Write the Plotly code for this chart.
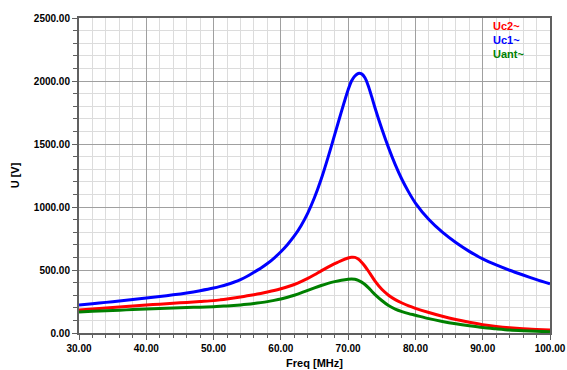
import plotly.graph_objects as go

freq = [30, 32, 34, 36, 38, 40, 42, 44, 46, 48,
        50, 51, 52, 53, 54, 55, 56, 57, 58, 59,
        60, 61, 62, 63, 64, 65, 66, 67, 68, 69,
        70, 70.5, 71, 71.5, 72, 72.5, 73, 73.5, 74,
        75, 76, 77, 78, 79, 80, 82, 84, 86, 88, 90, 92, 94, 96, 98, 100]

uc1 = [222, 232, 243, 254, 266, 278, 290, 303, 318, 336,
       357, 370, 385, 403, 424, 450, 482, 514, 551, 595,
       645, 703, 770, 852, 952, 1075, 1222, 1392, 1574, 1757,
       1930, 2000, 2040, 2060, 2056, 2026, 1961, 1876, 1786,
       1621, 1471, 1336, 1218, 1118, 1031, 900, 800, 718, 648, 588, 540, 498, 460, 424, 390]

uc2 = [183, 191, 199, 207, 215, 222, 229, 236, 243, 250,
       257, 263, 270, 278, 286, 295, 304, 314, 325, 337,
       351, 367, 385, 407, 433, 462, 493, 523, 550, 575,
       595, 601, 600, 587, 562, 530, 492, 452, 412,
       347, 300, 265, 238, 215, 196, 163, 133, 107, 85, 66, 52, 41, 33, 28, 24]

uant = [167, 172, 177, 181, 186, 190, 194, 198, 202, 205,
        209, 212, 215, 219, 223, 228, 234, 241, 249, 259,
        270, 284, 300, 318, 338, 358, 377, 394, 408, 419,
        427, 429, 426, 418, 404, 385, 360, 332, 305,
        258, 218, 190, 170, 154, 141, 114, 92, 73, 57, 43, 33, 24, 18, 13, 10]

series = [("Uc2~", uc2, "#ff0000"), ("Uc1~", uc1, "#0000ff"), ("Uant~", uant, "#008000")]

FONT = "Liberation Sans"

fig = go.Figure()
for name, vals, col in series:
    fig.add_trace(go.Scatter(x=freq, y=vals, mode="lines", name=name,
                             line=dict(color=col, width=3, shape="spline", smoothing=0.8),
                             showlegend=False, hoverinfo="skip"))

for i, (name, vals, col) in enumerate(series):
    fig.add_annotation(xref="paper", yref="paper", x=0.874, y=0.975 - i * 0.045,
                       text=name, showarrow=False, xanchor="left", yanchor="middle",
                       font=dict(family=FONT, size=11, color=col, weight="bold"))

axis_common = dict(
    showgrid=True, gridcolor="#a0a0a0", gridwidth=1,
    ticks="outside", ticklen=5, tickcolor="#606060", tickwidth=1,
    tickformat=".2f",
    tickfont=dict(family=FONT, size=10, color="#000000", weight="bold"),
    showline=True, linecolor="#606060", linewidth=2, mirror=True,
    zeroline=False,
)

fig.update_xaxes(range=[30, 100], tick0=30, dtick=10,
                 minor=dict(dtick=2, showgrid=True, gridcolor="#dcdcdc", gridwidth=1,
                            ticks="outside", ticklen=3, tickcolor="#606060"),
                 title=dict(text="Freq [MHz]", font=dict(family=FONT, size=11, color="#000000", weight="bold"),
                            standoff=6),
                 **axis_common)
fig.update_yaxes(range=[0, 2500], tick0=0, dtick=500,
                 minor=dict(dtick=100, showgrid=True, gridcolor="#dcdcdc", gridwidth=1,
                            ticks="outside", ticklen=4, tickcolor="#606060"),
                 title=dict(text="U [V]", font=dict(family=FONT, size=11, color="#000000", weight="bold"),
                            standoff=12),
                 **axis_common)

fig.update_layout(width=567, height=370,
                  margin=dict(l=79, r=17, t=18, b=37, autoexpand=False),
                  paper_bgcolor="#ffffff", plot_bgcolor="#ffffff",
                  font=dict(family=FONT), hovermode=False)

fig.write_html("out.html", config={"displayModeBar": False},
               post_script="document.body.style.margin='0';document.body.style.overflow='hidden';")
